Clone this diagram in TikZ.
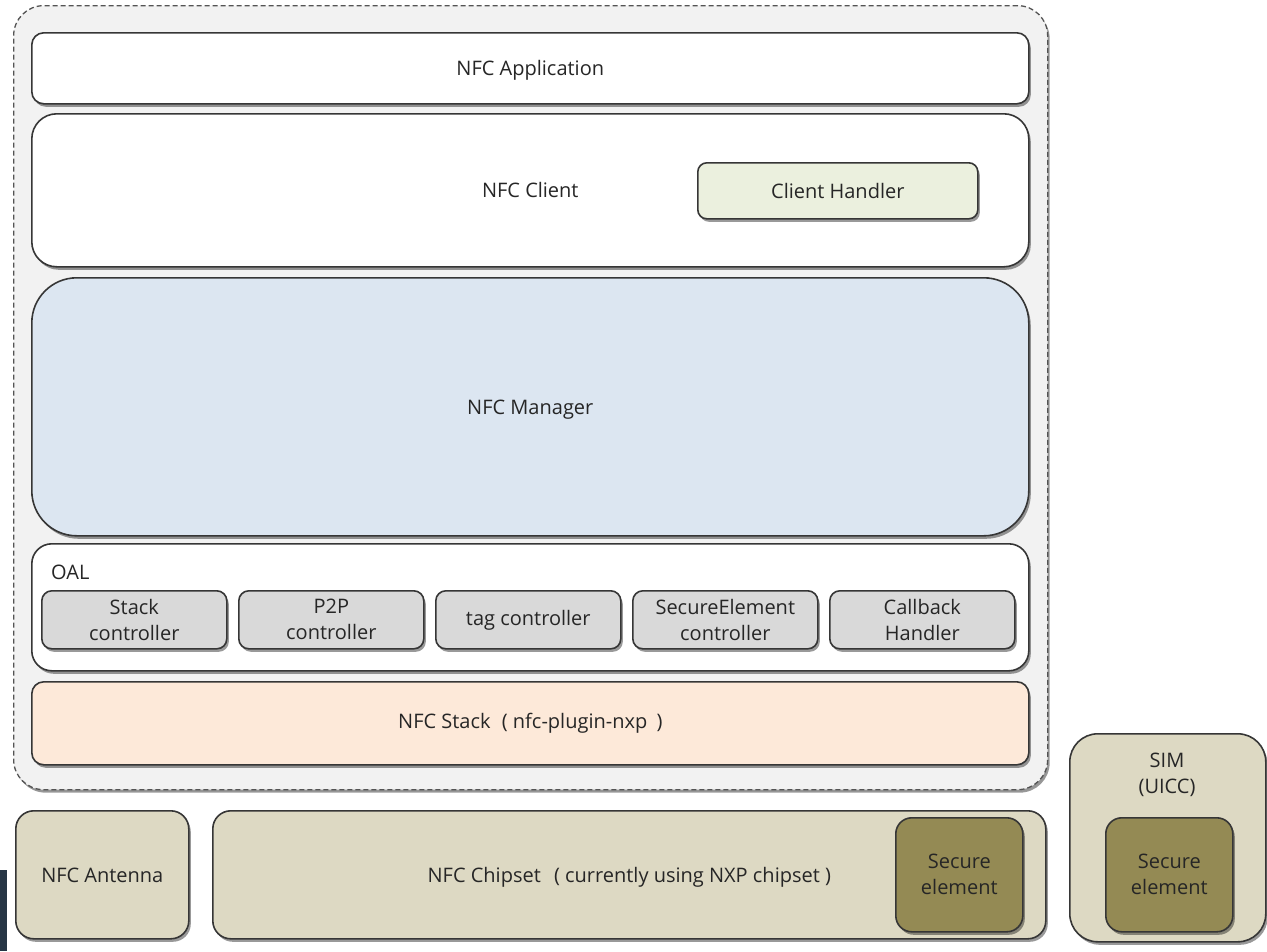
\documentclass[tikz,border=0pt]{standalone}
\usepackage{fontspec}
\setmainfont{Open Sans}
\usetikzlibrary{shadows}

\definecolor{edgecol}{HTML}{363636}
\definecolor{textcol}{HTML}{262626}
\definecolor{platformfill}{HTML}{F2F2F2}
\definecolor{handlerfill}{HTML}{EBF0DE}
\definecolor{managerfill}{HTML}{DCE6F1}
\definecolor{ctrlfill}{HTML}{D9D9D9}
\definecolor{stackfill}{HTML}{FDE9D9}
\definecolor{hwfill}{HTML}{DDD9C3}
\definecolor{sefill}{HTML}{948A54}
\definecolor{stripcol}{HTML}{263545}

\begin{document}
\begin{tikzpicture}[x=1pt,y=-1pt,
    layer/.style={draw=edgecol, line width=1.6pt, rounded corners=#1, inner sep=0pt,
        anchor=north west, text=textcol, align=center,
        font=\fontsize{20}{26}\selectfont,
        drop shadow={shadow xshift=2pt, shadow yshift=-3pt, fill=black, opacity=.4}},
    ctrl/.style={layer=10pt, fill=ctrlfill, minimum width=185pt, minimum height=58pt},
    hw/.style={layer=18pt, fill=hwfill, minimum height=128pt},
    secure/.style={layer=16pt, fill=sefill, minimum width=127pt, minimum height=114pt}]
    \useasboundingbox[fill=white] (0,0) rectangle (1267,951);

    % 平台区域 (虚线框)
    \node[layer=30pt, fill=platformfill, draw=edgecol!85, line width=1.3pt, dash pattern=on 5pt off 3pt,
        drop shadow={shadow xshift=1pt, shadow yshift=-2pt, opacity=.15},
        minimum width=1034pt, minimum height=784pt] (platform) at (13,5) {};

    % 上层
    \node[layer=12pt, fill=white, minimum width=997pt, minimum height=71pt, text depth=0pt] (app) at (31,32) {NFC Application};
    \node[layer=25pt, fill=white, minimum width=997pt, minimum height=153pt] (client) at (31,113) {NFC Client};
    \node[layer=9pt, fill=handlerfill, minimum width=280pt, minimum height=56pt] (handler) at (697,162) {Client Handler};
    \node[layer=45pt, fill=managerfill, minimum width=997pt, minimum height=258pt, text depth=0pt] (manager) at (31,277) {NFC Manager};

    % OAL 及其控制器
    \node[layer=20pt, fill=white, minimum width=997pt, minimum height=127pt] (oal) at (31,543) {};
    \node[anchor=west, inner sep=0pt, text=textcol, font=\fontsize{20}{26}\selectfont] (oallabel) at (51,572) {OAL};
    \node[ctrl] (stackctrl) at (41,590) {Stack\\controller};
    \node[ctrl] (p2pctrl) at (238,590) {P2P\\controller};
    \node[ctrl] (tagctrl) at (435,590) {tag controller};
    \node[ctrl] (sectrl) at (632,590) {SecureElement\\controller};
    \node[ctrl] (callback) at (829,590) {Callback\\Handler};

    \node[layer=12pt, fill=stackfill, minimum width=997pt, minimum height=83pt] (stack) at (31,681) {NFC Stack\hspace{6pt} ( nfc-plugin-nxp\hspace{4pt} )};

    % 硬件
    \node[hw, minimum width=173pt, text depth=0pt] (antenna) at (15,810) {NFC Antenna};
    \node[hw, minimum width=833pt, text depth=0pt] (chipset) at (212,810) {NFC Chipset\hspace{8pt} ( currently using NXP chipset )};
    \node[secure] (chipse) at (895,817) {Secure\\element};
    \node[layer=28pt, fill=hwfill, minimum width=196pt, minimum height=208pt] (sim) at (1069,733) {};
    \node[inner sep=0pt, text=textcol, align=center, font=\fontsize{20}{26}\selectfont] (simlabel) at (1167,775) {SIM\\(UICC)};
    \node[secure] (simse) at (1105,817) {Secure\\element};

    \fill[stripcol] (0,870) rectangle (7,951);
\end{tikzpicture}
\end{document}
